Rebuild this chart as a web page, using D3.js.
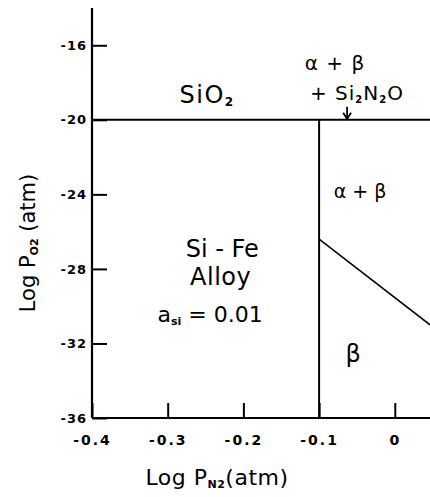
<!DOCTYPE html>
<html>
<head>
<meta charset="utf-8">
<script src="https://cdn.jsdelivr.net/npm/d3@7"></script>
<style>
  html, body { margin: 0; padding: 0; background: #fff; }
  svg { display: block; }
  text { fill: #000; }
</style>
</head>
<body>
<script>
// ---- data ----
const xTicks = [-0.4, -0.3, -0.2, -0.1, 0];
const xTickLabels = ["-0.4", "-0.3", "-0.2", "-0.1", "0"];
const yTicks = [-16, -20, -24, -28, -32, -36];
const yTickLabels = ["-16", "-20", "-24", "-28", "-32", "-36"];
const xDomain = [-0.4, 0.0465];
const yDomain = [-36, -14];
// phase boundaries [logPN2, logPO2]
const boundarySiO2 = [[-0.4, -20], [0.0465, -20]];
const boundaryAlloy = [[-0.1, -20], [-0.1, -36]];
const boundaryAlphaBeta = [[-0.1, -26.4], [0.0465, -31.0]];
// region labels: [logPN2, logPO2] of text baseline centre; parts [text, isSubscript]
const regionLabels = [
  { x: -0.248, y: -19.1, parts: [["SiO", 0], ["2", 1]], size: 24, ls: 1.5 },
  { x: -0.079, y: -17.33, parts: [["α + β", 0]], size: 20, ls: 1 },
  { x: -0.050, y: -18.94, parts: [["+ Si", 0], ["2", 1], ["N", 0], ["2", 1], ["O", 0]], size: 20, ls: 1 },
  { x: -0.046, y: -24.2, parts: [["α + β", 0]], size: 19, ls: 0 },
  { x: -0.228, y: -27.36, parts: [["Si - Fe", 0]], size: 24, ls: 0 },
  { x: -0.230, y: -28.86, parts: [["Alloy", 0]], size: 24, ls: 0.5 },
  { x: -0.244, y: -30.85, parts: [["a", 0], ["si", 1], [" = 0.01", 0]], size: 22, ls: 0 },
  { x: -0.055, y: -33.0, parts: [["β", 0]], size: 24, ls: 0 }
];
const arrowPts = [[-0.063, -19.3], [-0.063, -20]];

// ---- drawing ----
const W = 430, H = 497;
const svg = d3.select("body").append("svg").attr("width", W).attr("height", H);
const x = d3.scaleLinear().domain(xDomain).range([92, 430]);
const y = d3.scaleLinear().domain(yDomain).range([418, 8]);

const fontMain = "'DejaVu Sans', Verdana, sans-serif";

// Y axis
const yAxis = d3.axisLeft(y).tickValues(yTicks).tickFormat((d, i) => yTickLabels[i])
  .tickSizeInner(-15).tickSizeOuter(0).tickPadding(20);
const gy = svg.append("g").attr("transform", `translate(${x(xDomain[0])},0)`).call(yAxis);
gy.select(".domain").attr("stroke", "#000").attr("stroke-width", 2.2)
  .attr("d", `M0,${y(yDomain[1])}V${y(yDomain[0])}`);
gy.selectAll(".tick line").attr("stroke", "#000").attr("stroke-width", 2);
gy.selectAll(".tick text").attr("font-family", fontMain).attr("font-weight", "bold")
  .attr("font-size", 13).attr("letter-spacing", 1).attr("fill", "#000")
  .attr("x", -5).attr("text-anchor", "end");

// X axis
const xAxis = d3.axisBottom(x).tickValues(xTicks).tickFormat((d, i) => xTickLabels[i])
  .tickSizeInner(-15).tickSizeOuter(0).tickPadding(20);
const gx = svg.append("g").attr("transform", `translate(0,${y(yDomain[0])})`).call(xAxis);
gx.select(".domain").attr("stroke", "#000").attr("stroke-width", 2.2)
  .attr("d", `M${x(xDomain[0])},0H${x(xDomain[1])}`);
gx.selectAll(".tick line").attr("stroke", "#000").attr("stroke-width", 2);
gx.selectAll(".tick text").attr("font-family", fontMain).attr("font-weight", "bold")
  .attr("font-size", 14).attr("letter-spacing", 2).attr("fill", "#000")
  .attr("y", 17).attr("dy", "0.71em");

// boundaries
const line = d3.line().x(d => x(d[0])).y(d => y(d[1]));
svg.append("path").attr("d", line(boundarySiO2)).attr("fill", "none").attr("stroke", "#000").attr("stroke-width", 2);
svg.append("path").attr("d", line(boundaryAlloy)).attr("fill", "none").attr("stroke", "#000").attr("stroke-width", 2);
svg.append("path").attr("d", line(boundaryAlphaBeta)).attr("fill", "none").attr("stroke", "#000").attr("stroke-width", 1.5);

// arrow
svg.append("path").attr("d", line(arrowPts)).attr("fill", "none").attr("stroke", "#000").attr("stroke-width", 1.8);
const ax = x(arrowPts[1][0]), ay = y(arrowPts[1][1]) - 1;
svg.append("path").attr("d", `M${ax - 4},${ay - 6}L${ax},${ay}L${ax + 4},${ay - 6}`)
  .attr("fill", "none").attr("stroke", "#000").attr("stroke-width", 1.8);

// region labels
regionLabels.forEach(l => {
  const t = svg.append("text").attr("x", x(l.x)).attr("y", y(l.y))
    .attr("text-anchor", "middle").attr("font-family", fontMain)
    .attr("font-size", l.size).attr("letter-spacing", l.ls);
  let sub = false;
  l.parts.forEach(p => {
    const ts = t.append("tspan").text(p[0]);
    if (p[1]) {
      ts.attr("font-size", l.size * 0.5).attr("font-weight", "bold").attr("dy", sub ? 0 : 3);
      sub = true;
    } else {
      ts.attr("dy", sub ? -3 : 0);
      sub = false;
    }
  });
});

// axis titles
const xt = svg.append("text").attr("x", 217).attr("y", 485).attr("text-anchor", "middle")
  .attr("font-family", fontMain).attr("font-size", 22).attr("letter-spacing", 0.5);
xt.append("tspan").text("Log P");
xt.append("tspan").text("N2").attr("font-size", 11).attr("font-weight", "bold").attr("dy", 3);
xt.append("tspan").text("(atm)").attr("dy", -3);

const yt = svg.append("text").attr("transform", "translate(35,243) rotate(-90)")
  .attr("text-anchor", "middle").attr("font-family", fontMain).attr("font-size", 21);
yt.append("tspan").text("Log P");
yt.append("tspan").text("O2").attr("font-size", 11).attr("font-weight", "bold").attr("dy", 3);
yt.append("tspan").text(" (atm)").attr("dy", -3);
</script>
</body>
</html>
